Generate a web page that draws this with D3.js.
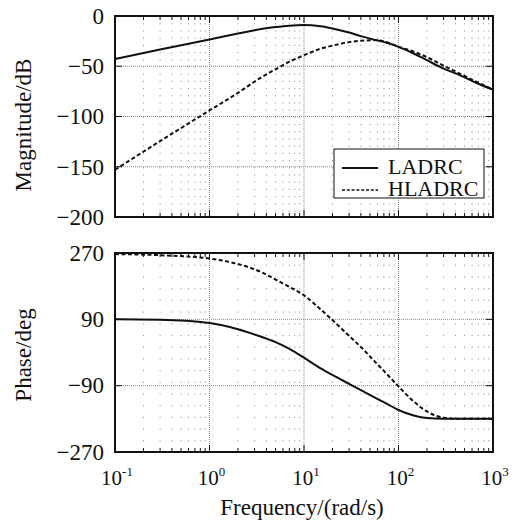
<!DOCTYPE html>
<html>
<head>
<meta charset="utf-8">
<script src="https://cdn.jsdelivr.net/npm/d3@7"></script>
<style>
  body { margin: 0; background: #fff; }
</style>
</head>
<body>
<svg id="chart" width="518" height="524"></svg>
<script>
// Frequencies (rad/s)
const freqs = [0.1, 0.3, 1, 2, 3.4, 5, 7, 10, 15, 20, 30, 40, 55, 75, 100, 145, 200, 300, 450, 670, 1000];

// Magnitude (dB)
const magLADRC = [-42.7, -33.4, -23.3, -17.5, -13.2, -11, -9.6, -9, -10.3, -12.5, -16.5, -20, -23.5, -26.7, -30.7, -37.3, -44, -52.3, -59, -66.7, -73.3];
const magHLADRC = [-153, -124.5, -94, -76.5, -62, -53, -45.5, -39, -32.5, -29.5, -26, -24.7, -24, -26, -30.5, -35.5, -41, -49.5, -57.5, -65.5, -73.3];

// Phase (deg)
const phaseLADRC = [90, 89, 80, 63, 44, 28, 10, -14, -43, -61, -85, -102, -121, -139, -156, -171, -178, -180, -180, -180, -180];
const phaseHLADRC = [267, 264, 255, 240, 220, 198, 178, 155, 117, 88, 45, 15, -22, -58, -92, -133, -160, -177, -180, -180, -180];

const xTicks = [0.1, 1, 10, 100, 1000];
const xTickExp = ["-1", "0", "1", "2", "3"];
const magTicks = [0, -50, -100, -150, -200];
const phaseTicks = [270, 90, -90, -270];

const seriesNames = ["LADRC", "HLADRC"];

const FONT = "Liberation Serif";
const svg = d3.select("#chart");
const left = 115, right = 493;

const x = d3.scaleLog().domain([0.1, 1000]).range([left, right]);
const yMag = d3.scaleLinear().domain([-200, 0]).range([217, 16]);
const yPhase = d3.scaleLinear().domain([-270, 270]).range([452, 253]);

// minor decade positions
const minorX = [];
for (let d = -1; d < 3; d++) {
  for (let k = 2; k <= 9; k++) minorX.push(k * Math.pow(10, d));
}

function fmt(v) {
  return v < 0 ? "\u2212" + Math.abs(v) : String(v);
}

function panel(y, ticks, seriesA, seriesB, minorDash) {
  const [y0, y1] = y.range();
  const g = svg.append("g");

  // minor grid
  g.selectAll(".minor")
    .data(minorX)
    .enter()
    .append("line")
    .attr("x1", (d) => x(d))
    .attr("x2", (d) => x(d))
    .attr("y1", y1)
    .attr("y2", y0)
    .attr("stroke", "#999")
    .attr("stroke-width", 1)
    .attr("stroke-dasharray", minorDash);

  // major grid
  g.selectAll(".vmaj")
    .data(xTicks.slice(1, -1))
    .enter()
    .append("line")
    .attr("x1", (d) => x(d))
    .attr("x2", (d) => x(d))
    .attr("y1", y1)
    .attr("y2", y0)
    .attr("stroke", "#888")
    .attr("stroke-dasharray", "1,1");

  g.selectAll(".hmaj")
    .data(ticks.slice(1, -1))
    .enter()
    .append("line")
    .attr("x1", left)
    .attr("x2", right)
    .attr("y1", (d) => y(d))
    .attr("y2", (d) => y(d))
    .attr("stroke", "#888")
    .attr("stroke-dasharray", "1,1");

  // ticks inside the frame
  ticks.forEach((t) => {
    g.append("line").attr("x1", left).attr("x2", left + 7).attr("y1", y(t)).attr("y2", y(t)).attr("stroke", "#111");
    g.append("line").attr("x1", right).attr("x2", right - 7).attr("y1", y(t)).attr("y2", y(t)).attr("stroke", "#111");
  });
  xTicks.forEach((t) => {
    g.append("line").attr("x1", x(t)).attr("x2", x(t)).attr("y1", y0).attr("y2", y0 - 7).attr("stroke", "#111");
    g.append("line").attr("x1", x(t)).attr("x2", x(t)).attr("y1", y1).attr("y2", y1 + 7).attr("stroke", "#111");
  });
  minorX.forEach((t) => {
    g.append("line").attr("x1", x(t)).attr("x2", x(t)).attr("y1", y0).attr("y2", y0 - 4).attr("stroke", "#111");
    g.append("line").attr("x1", x(t)).attr("x2", x(t)).attr("y1", y1).attr("y2", y1 + 4).attr("stroke", "#111");
  });

  // curves
  const line = (vals) =>
    d3.line()
      .x((d, i) => x(freqs[i]))
      .y((d) => y(d))
      .curve(d3.curveMonotoneX)(vals);

  g.append("path")
    .attr("d", line(seriesA))
    .attr("fill", "none")
    .attr("stroke", "#111")
    .attr("stroke-width", 2);

  g.append("path")
    .attr("d", line(seriesB))
    .attr("fill", "none")
    .attr("stroke", "#111")
    .attr("stroke-width", 2)
    .attr("stroke-dasharray", "4,2.5");

  // frame
  g.append("rect")
    .attr("x", left)
    .attr("y", y1)
    .attr("width", right - left)
    .attr("height", y0 - y1)
    .attr("fill", "none")
    .attr("stroke", "#111")
    .attr("stroke-width", 2);

  // y tick labels
  g.selectAll(".ylab")
    .data(ticks)
    .enter()
    .append("text")
    .attr("x", 104)
    .attr("y", (d) => y(d))
    .attr("dy", "0.34em")
    .attr("text-anchor", "end")
    .attr("font-family", FONT)
    .attr("font-size", 23)
    .attr("fill", "#111")
    .text(fmt);

  return g;
}

panel(yMag, magTicks, magLADRC, magHLADRC, "1.2,6");
panel(yPhase, phaseTicks, phaseLADRC, phaseHLADRC, "1.2,10.5");

// x tick labels with superscript exponents
xTicks.forEach((t, i) => {
  const txt = svg.append("text")
    .attr("x", x(t) + 2)
    .attr("y", 485)
    .attr("text-anchor", "middle")
    .attr("font-family", FONT)
    .attr("font-size", 21)
    .attr("fill", "#111");
  txt.append("tspan").text("10");
  txt.append("tspan").attr("dy", -9).attr("font-size", 13).text(xTickExp[i]);
});

// axis titles
svg.append("text")
  .attr("transform", "translate(31,125) rotate(-90)")
  .attr("text-anchor", "middle")
  .attr("font-family", FONT)
  .attr("font-size", 23)
  .attr("fill", "#111")
  .text("Magnitude/dB");

svg.append("text")
  .attr("transform", "translate(31,355) rotate(-90)")
  .attr("text-anchor", "middle")
  .attr("font-family", FONT)
  .attr("font-size", 23)
  .attr("fill", "#111")
  .text("Phase/deg");

svg.append("text")
  .attr("x", 302)
  .attr("y", 515)
  .attr("text-anchor", "middle")
  .attr("font-family", FONT)
  .attr("font-size", 23)
  .attr("fill", "#111")
  .text("Frequency/(rad/s)");

// legend
const legend = svg.append("g");
legend.append("rect")
  .attr("x", 334)
  .attr("y", 149)
  .attr("width", 150)
  .attr("height", 49)
  .attr("fill", "#fff")
  .attr("stroke", "#111")
  .attr("stroke-width", 1);

seriesNames.forEach((name, i) => {
  const ly = 168 + i * 22;
  legend.append("line")
    .attr("x1", 342)
    .attr("x2", 378)
    .attr("y1", ly)
    .attr("y2", ly)
    .attr("stroke", "#111")
    .attr("stroke-width", i === 0 ? 2 : 1.6)
    .attr("stroke-dasharray", i === 0 ? null : "3,1.8");
  legend.append("text")
    .attr("x", 388)
    .attr("y", ly + 6)
    .attr("font-family", FONT)
    .attr("font-size", 22)
    .attr("fill", "#111")
    .text(name);
});
</script>
</body>
</html>
